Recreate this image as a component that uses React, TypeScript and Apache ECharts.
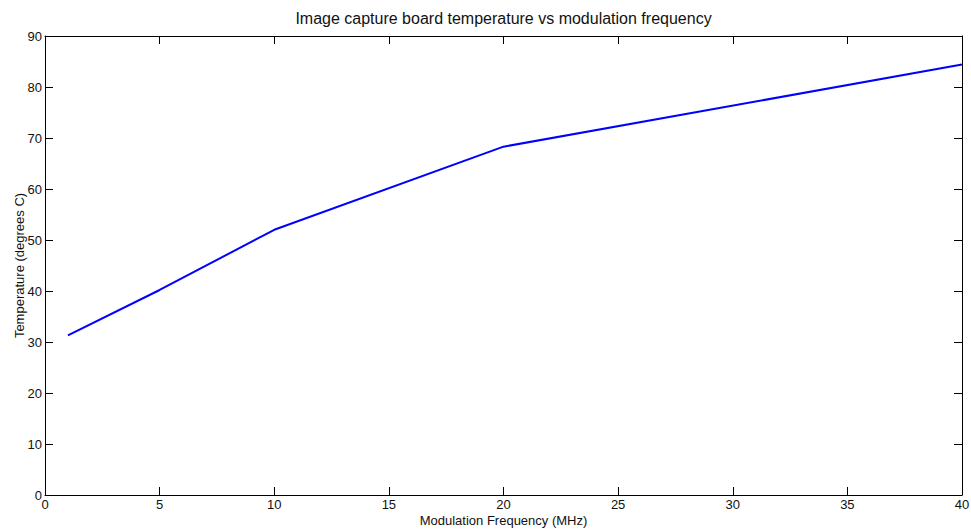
import React, { useEffect, useRef } from "react";
import * as echarts from "echarts";

const frequencies = [1, 5, 10, 20, 40];
const temperatures = [31.3, 40.2, 52.0, 68.3, 84.4];
const titleText = "Image capture board temperature vs modulation frequency";
const xName = "Modulation Frequency (MHz)";
const yName = "Temperature (degrees C)";

export default function App() {
  const ref = useRef<HTMLDivElement>(null);
  useEffect(() => {
    const chart = echarts.init(ref.current!, null, { renderer: "svg" });
    const font = "Liberation Sans, Arial, Helvetica, sans-serif";
    const lineStyle = { color: "#000", width: 1 };
    const gridLeft = 45;
    const gridRight = 9;
    const axesCenter = gridLeft + (971 - gridLeft - gridRight) / 2;
    chart.setOption({
      animation: false,
      backgroundColor: "#fff",
      title: {
        text: titleText,
        left: axesCenter,
        textAlign: "center",
        top: 10,
        padding: 0,
        textStyle: { fontFamily: font, fontSize: 16, fontWeight: "normal", color: "#111" },
      },
      grid: { left: gridLeft, right: gridRight, top: 36, bottom: 37, containLabel: false, outerBoundsMode: "none" },
      xAxis: [
        {
          type: "value",
          min: 0,
          max: 40,
          interval: 5,
          position: "bottom",
          name: xName,
          nameLocation: "middle",
          nameGap: 19,
          nameMoveOverlap: false,
          nameTextStyle: { fontFamily: font, fontSize: 13, color: "#111" },
          axisLine: { show: true, onZero: false, lineStyle },
          axisTick: { show: true, inside: true, length: 8, lineStyle },
          axisLabel: { fontFamily: font, fontSize: 13, color: "#111", margin: 3 },
          splitLine: { show: false },
        },
        {
          type: "value",
          min: 0,
          max: 40,
          interval: 5,
          position: "top",
          axisLine: { show: true, onZero: false, lineStyle },
          axisTick: { show: true, inside: true, length: 8, lineStyle },
          axisLabel: { show: false },
          splitLine: { show: false },
        },
      ],
      yAxis: [
        {
          type: "value",
          min: 0,
          max: 90,
          interval: 10,
          position: "left",
          name: yName,
          nameLocation: "middle",
          nameGap: 19,
          nameMoveOverlap: false,
          nameTextStyle: { fontFamily: font, fontSize: 13, color: "#111" },
          axisLine: { show: true, onZero: false, lineStyle },
          axisTick: { show: true, inside: true, length: 8, lineStyle },
          axisLabel: { fontFamily: font, fontSize: 13, color: "#111", margin: 3 },
          splitLine: { show: false },
        },
        {
          type: "value",
          min: 0,
          max: 90,
          interval: 10,
          position: "right",
          axisLine: { show: true, onZero: false, lineStyle },
          axisTick: { show: true, inside: true, length: 8, lineStyle },
          axisLabel: { show: false },
          splitLine: { show: false },
        },
      ],
      series: [
        {
          type: "line",
          data: frequencies.map((f, i) => [f, temperatures[i]]),
          showSymbol: false,
          lineStyle: { color: "#0000ff", width: 2 },
          itemStyle: { color: "#0000ff" },
        },
      ],
    });
    return () => chart.dispose();
  }, []);
  return <div ref={ref} style={{ width: 971, height: 532, position: "absolute", left: 0, top: 0 }} />;
}
